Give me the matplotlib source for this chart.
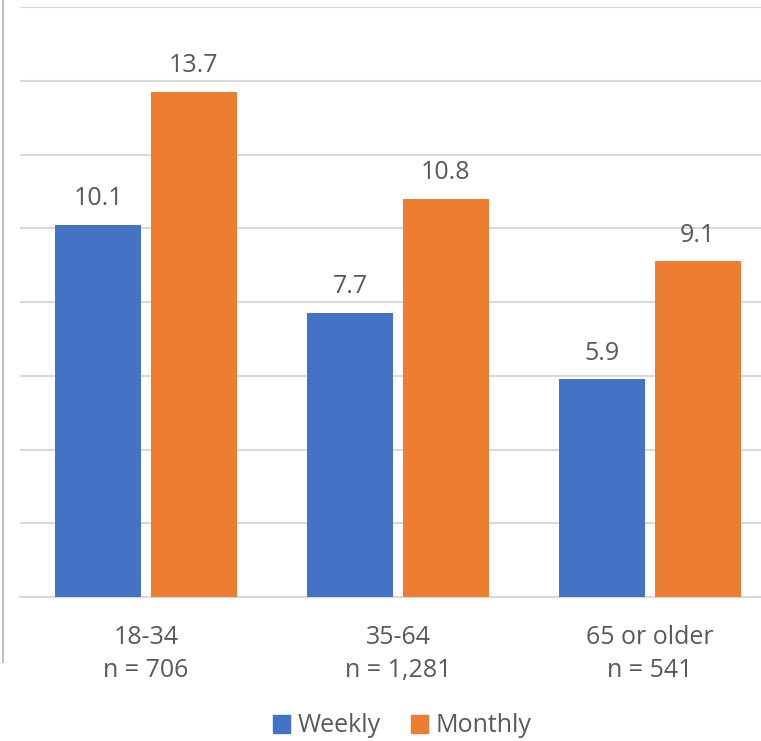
import matplotlib.pyplot as plt
import numpy as np
from matplotlib.lines import Line2D
from matplotlib.patches import Patch

plt.rcParams['font.family'] = ['Open Sans', 'DejaVu Sans']

groups = ['18-34\nn = 706', '35-64\nn = 1,281', '65 or older\nn = 541']
weekly = [10.1, 7.7, 5.9]
monthly = [13.7, 10.8, 9.1]

blue = '#4472C4'
orange = '#ED7D31'
txt = '#595959'

W, H = 761, 741
fig = plt.figure(figsize=(W / 100, H / 100), dpi=100)
ax = fig.add_axes([20 / W, (H - 597) / H, 756 / W, 590 / H])

x = np.arange(len(groups))
bw = 0.341
off = 0.19
b1 = ax.bar(x - off, weekly, bw, color=blue, label='Weekly', zorder=3)
b2 = ax.bar(x + off, monthly, bw, color=orange, label='Monthly', zorder=3)

for bars, vals in [(b1, weekly), (b2, monthly)]:
    for r, v in zip(bars, vals):
        ax.annotate(f'{v:.1f}', (r.get_x() + r.get_width() / 2, v),
                    xytext=(0, 10), textcoords='offset points',
                    ha='center', va='bottom', fontsize=18, color=txt)

ax.set_xlim(-0.5, 2.5)
ax.set_ylim(0, 16)
ax.set_yticks(np.arange(0, 17, 2))
ax.yaxis.grid(True, color='#D9D9D9', linewidth=1.5, zorder=0)
ax.tick_params(axis='y', left=False, labelleft=False)
ax.tick_params(axis='x', length=0, pad=20, labelsize=18, labelcolor=txt)
ax.set_xticks(x)
ax.set_xticklabels(groups, linespacing=1.45)
for s in ['top', 'right', 'left']:
    ax.spines[s].set_visible(False)
ax.spines['bottom'].set_color('#D9D9D9')
ax.spines['bottom'].set_linewidth(1.5)

# thin frame line at left edge
fig.add_artist(Line2D([3 / W, 3 / W], [(H - 662) / H, 1], color='#BFBFBF', linewidth=1.5))

handles = [Patch(color=blue), Patch(color=orange)]
fig.legend(handles, ['Weekly', 'Monthly'], loc='center', bbox_to_anchor=(402 / W, (H - 726) / H),
           ncol=2, frameon=False, fontsize=18, labelcolor=txt,
           handlelength=0.7, handleheight=0.7, handletextpad=0.3, columnspacing=1.2)

fig.savefig('out.png', dpi=100)
